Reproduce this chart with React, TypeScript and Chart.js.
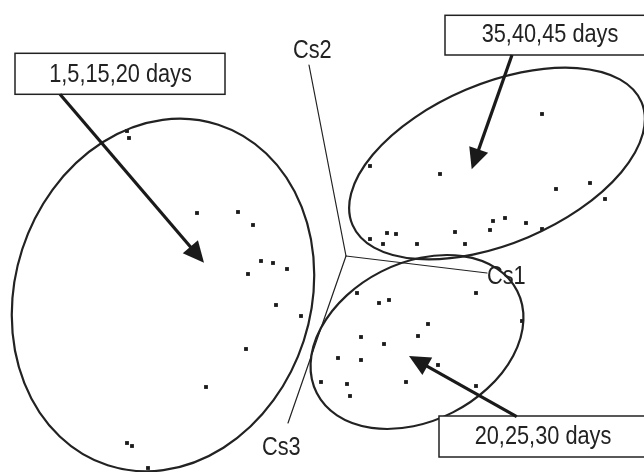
import React, { useEffect, useRef } from "react";
import { Chart, registerables } from "chart.js";

Chart.register(...registerables);

// Component scores (Cs1 horizontal, Cs2 vertical)
const groupEarly: { x: number; y: number }[] = [
  { x: -2.19, y: 1.25 }, { x: -2.17, y: 1.18 }, { x: -1.49, y: 0.43 }, { x: -1.08, y: 0.44 },
  { x: -0.93, y: 0.31 }, { x: -0.85, y: -0.05 }, { x: -0.73, y: -0.07 }, { x: -0.59, y: -0.13 },
  { x: -0.98, y: -0.18 }, { x: -0.70, y: -0.49 }, { x: -0.45, y: -0.60 }, { x: -1.00, y: -0.93 },
  { x: -1.40, y: -1.31 }, { x: -2.19, y: -1.87 }, { x: -2.14, y: -1.90 }, { x: -1.98, y: -2.12 },
];
const groupLate: { x: number; y: number }[] = [
  { x: 1.96, y: 1.42 }, { x: 0.24, y: 0.90 }, { x: 0.94, y: 0.82 }, { x: 2.10, y: 0.67 },
  { x: 2.44, y: 0.73 }, { x: 2.59, y: 0.57 }, { x: 1.47, y: 0.35 }, { x: 1.59, y: 0.38 },
  { x: 1.80, y: 0.33 }, { x: 1.96, y: 0.27 }, { x: 1.44, y: 0.26 }, { x: 1.09, y: 0.24 },
  { x: 1.19, y: 0.12 }, { x: 0.41, y: 0.23 }, { x: 0.50, y: 0.22 }, { x: 0.24, y: 0.17 },
  { x: 0.37, y: 0.12 }, { x: 0.71, y: 0.12 },
];
const groupMid: { x: number; y: number }[] = [
  { x: 0.11, y: -0.37 }, { x: 0.33, y: -0.47 }, { x: 0.43, y: -0.44 }, { x: 1.30, y: -0.37 },
  { x: 1.76, y: -0.65 }, { x: 0.82, y: -0.68 }, { x: 0.15, y: -0.81 }, { x: 0.72, y: -0.80 },
  { x: 0.38, y: -0.88 }, { x: -0.08, y: -1.02 }, { x: 0.15, y: -1.04 }, { x: 0.92, y: -1.09 },
  { x: -0.25, y: -1.26 }, { x: 0.01, y: -1.28 }, { x: 0.60, y: -1.26 }, { x: 1.30, y: -1.30 },
  { x: 0.04, y: -1.40 },
];

// Axis vectors drawn from origin
const axisLabels = ["Cs1", "Cs2", "Cs3"];
const axisEnds = [
  { x: 1.41, y: -0.17 },
  { x: -0.37, y: 1.91 },
  { x: -0.58, y: -1.67 },
];
const axisLabelPos = [
  { x: 1.41, y: -0.28 },
  { x: -0.53, y: 1.98 },
  { x: -0.84, y: -1.99 },
];

// Group ellipses: center, semi-axes, rotation (deg)
const ellipses = [
  { cx: -1.83, cy: -0.39, a: 1.48, b: 1.79, rot: 18 },
  { cx: 1.51, cy: 0.925, a: 1.57, b: 0.80, rot: -23 },
  { cx: 0.71, cy: -0.86, a: 1.125, b: 0.79, rot: -27 },
];

// Label boxes
const boxLabels = ["1,5,15,20 days", "35,40,45 days", "20,25,30 days"];
const boxes = [
  { x0: -3.31, y0: 2.027, x1: -1.21, y1: 1.617, tx: -2.255, ty: 1.743 },
  { x0: 0.99, y0: 2.407, x1: 3.1, y1: 2.01, tx: 2.04, ty: 2.143 },
  { x0: 0.93, y0: -1.60, x1: 3.1, y1: -2.01, tx: 1.97, ty: -1.88 },
];
const arrows = [
  { x0: -2.86, y0: 1.617, x1: -1.42, y1: -0.067 },
  { x0: 1.66, y0: 2.01, x1: 1.257, y1: 0.867 },
  { x0: 1.707, y0: -1.607, x1: 0.63, y1: -1.0 },
];

const INK = "#222222";

function drawText(ctx: CanvasRenderingContext2D, text: string, x: number, y: number, align: CanvasTextAlign) {
  ctx.save();
  ctx.translate(x, y);
  ctx.scale(0.87, 1);
  ctx.font = "25px 'Liberation Sans', Arial, sans-serif";
  ctx.fillStyle = INK;
  ctx.textAlign = align;
  ctx.textBaseline = "alphabetic";
  ctx.fillText(text, 0, 0);
  ctx.restore();
}

const overlayPlugin = {
  id: "overlay",
  afterDatasetsDraw(chart: any) {
    const ctx: CanvasRenderingContext2D = chart.ctx;
    const xs = chart.scales.x;
    const ys = chart.scales.y;
    const px = (v: number) => xs.getPixelForValue(v);
    const py = (v: number) => ys.getPixelForValue(v);
    ctx.save();
    ctx.strokeStyle = INK;
    ctx.lineCap = "round";

    // axes
    ctx.lineWidth = 1.2;
    axisEnds.forEach((e) => {
      ctx.beginPath();
      ctx.moveTo(px(0), py(0));
      ctx.lineTo(px(e.x), py(e.y));
      ctx.stroke();
    });
    axisLabels.forEach((t, i) => drawText(ctx, t, px(axisLabelPos[i].x), py(axisLabelPos[i].y), "left"));

    // ellipses
    ctx.lineWidth = 2.2;
    ellipses.forEach((e) => {
      const cx = px(e.cx);
      const cy = py(e.cy);
      const rx = Math.abs(px(e.cx + e.a) - cx);
      const ry = Math.abs(py(e.cy + e.b) - cy);
      ctx.beginPath();
      ctx.ellipse(cx, cy, rx, ry, (e.rot * Math.PI) / 180, 0, Math.PI * 2);
      ctx.stroke();
    });

    // boxes
    ctx.lineWidth = 1.5;
    ctx.lineCap = "butt";
    boxes.forEach((b, i) => {
      const x0 = px(b.x0), y0 = py(b.y0), x1 = px(b.x1), y1 = py(b.y1);
      ctx.fillStyle = "#ffffff";
      ctx.fillRect(x0, y0, x1 - x0, y1 - y0);
      ctx.strokeRect(x0, y0, x1 - x0, y1 - y0);
      drawText(ctx, boxLabels[i], px(b.tx), py(b.ty), "center");
    });

    // arrows
    arrows.forEach((a) => {
      const x0 = px(a.x0), y0 = py(a.y0), x1 = px(a.x1), y1 = py(a.y1);
      const ang = Math.atan2(y1 - y0, x1 - x0);
      const headLen = 21;
      const headHalf = 10;
      const bx = x1 - headLen * Math.cos(ang);
      const by = y1 - headLen * Math.sin(ang);
      ctx.lineWidth = 3.2;
      ctx.strokeStyle = "#1a1a1a";
      ctx.beginPath();
      ctx.moveTo(x0, y0);
      ctx.lineTo(bx + 2 * Math.cos(ang), by + 2 * Math.sin(ang));
      ctx.stroke();
      ctx.fillStyle = "#1a1a1a";
      ctx.beginPath();
      ctx.moveTo(x1, y1);
      ctx.lineTo(bx + headHalf * Math.sin(ang), by - headHalf * Math.cos(ang));
      ctx.lineTo(bx - headHalf * Math.sin(ang), by + headHalf * Math.cos(ang));
      ctx.closePath();
      ctx.fill();
    });
    ctx.restore();
  },
};

export default function App() {
  const ref = useRef<HTMLCanvasElement | null>(null);
  useEffect(() => {
    document.body.style.margin = "0";
    if (!ref.current) return;
    const pointDs = (label: string, data: { x: number; y: number }[]) => ({
      label,
      data,
      pointStyle: "rect" as const,
      pointRadius: 2.7,
      pointBackgroundColor: "#1a1a1a",
      pointBorderWidth: 0,
      showLine: false,
    });
    const chart = new Chart(ref.current, {
      type: "scatter",
      data: {
        datasets: [
          pointDs(boxLabels[0], groupEarly),
          pointDs(boxLabels[1], groupLate),
          pointDs(boxLabels[2], groupMid),
        ],
      },
      options: {
        responsive: false,
        animation: false,
        layout: { padding: 0, autoPadding: false },
        scales: {
          x: { type: "linear", min: -3.46, max: 2.98, display: false },
          y: { type: "linear", min: -2.16, max: 2.56, display: false },
        },
        plugins: { legend: { display: false }, tooltip: { enabled: false } },
      },
      plugins: [overlayPlugin],
    });
    return () => chart.destroy();
  }, []);
  return (
    <div style={{ width: 644, height: 472, background: "#fff" }}>
      <canvas ref={ref} width={644} height={472} style={{ display: "block" }} />
    </div>
  );
}
